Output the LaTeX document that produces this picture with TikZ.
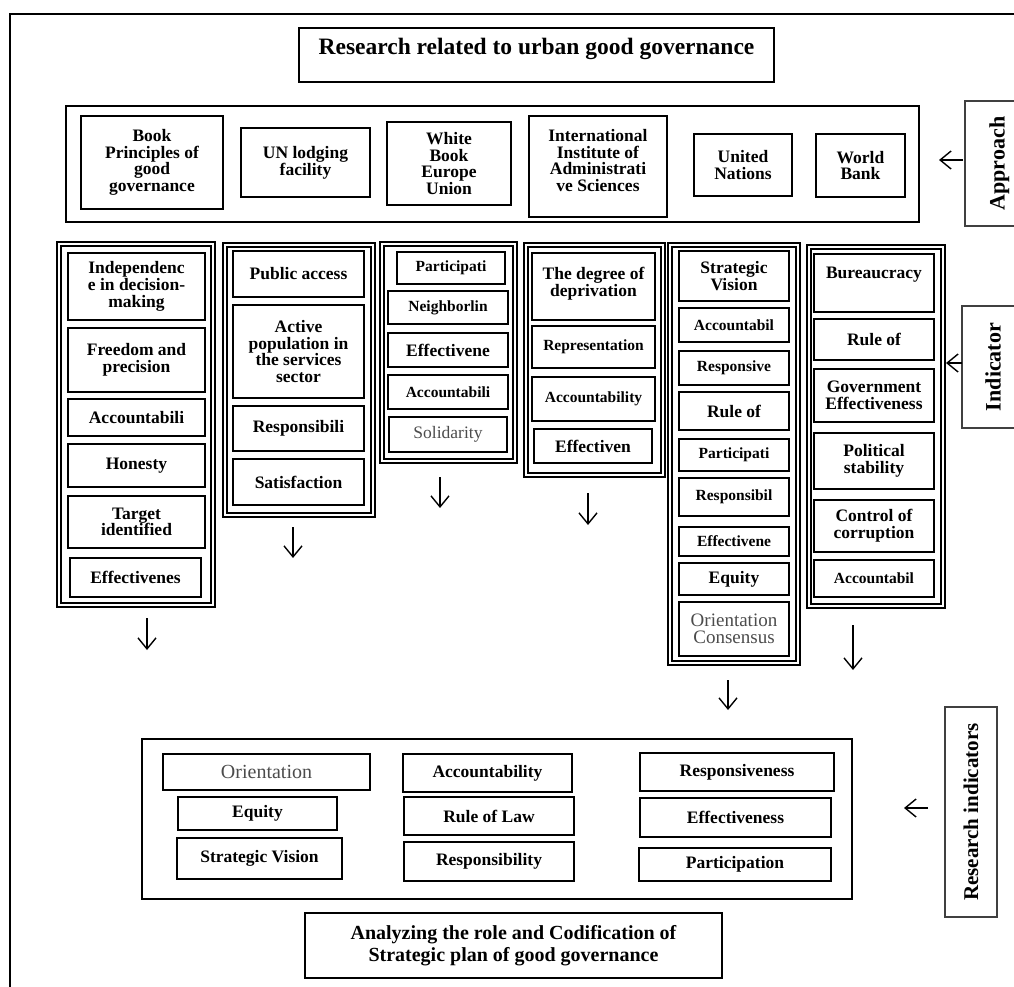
\documentclass[tikz,border=0pt]{standalone}
\usepackage{fontspec}
\setmainfont{Liberation Serif}
\usepackage{tikz}
\usetikzlibrary{arrows.meta}
\tikzset{sz/.style n args={2}{minimum width=#1pt, minimum height=#2pt}}

\begin{document}
\begin{tikzpicture}[x=1pt, y=-1pt,
  font=\bfseries\fontsize{17.5}{16.7}\selectfont,
  box/.style={draw, line width=2.2pt, align=center, inner sep=1pt},
  sm/.style={font=\bfseries\fontsize{15.5}{15}\selectfont},
  lite/.style={font=\mdseries\fontsize{19}{17}\selectfont, text=black!70},
  colbox/.style={draw, double, line width=1.8pt, double distance=1.8pt},
  side/.style={draw=black!75, line width=1.3pt, rotate=90, align=center,
               font=\bfseries\fontsize{22}{24}\selectfont},
  ar/.style={-{Straight Barb[length=11pt,width=18pt]}, line width=1.4pt}
]
\fill[white] (0,0) rectangle (1014,987);
\useasboundingbox (0,0) rectangle (1014,987);
\draw[line width=2.6pt] (10,995) |- (1030,14);

% title and approach
\node[box, line width=1.8pt, sz={475}{54}, text depth=17pt,
  font=\bfseries\fontsize{23.5}{24}\selectfont] (title) at (536.5,55)
  {Research related to urban good governance};
\node[draw, line width=2.6pt, sz={853}{116}] (appr) at (492.5,164) {};
\node[box, sz={142}{93}] (ap1) at (152,162.5) {Book\\Principles of\\good\\governance};
\node[box, sz={129}{69}] (ap2) at (305.5,162.5) {UN lodging\\facility};
\node[box, sz={124}{83}] (ap3) at (449,163.5) {White\\Book\\Europe\\Union};
\node[box, sz={138}{101}, text depth=12pt] (ap4) at (598,166.5)
  {International\\Institute of\\Administrati\\ve Sciences};
\node[box, sz={98}{62}] (ap5) at (743,165) {United\\Nations};
\node[box, sz={89}{63}] (ap6) at (860.5,165.5) {World\\Bank};
\node[side, sz={125}{64}, text depth=0pt] (approach) at (997,163.5) {Approach};
\coordinate (apS) at (963,160);
\coordinate (apE) at (939,160);
\draw[ar] (apS) -- (apE);

% indicator columns
\node[colbox, sz={154}{361}] (col1) at (136,424.5) {};
\node[box, sz={137}{67}] (c1a) at (136.5,286.5) {Independenc\\e in decision-\\making};
\node[box, sz={137}{64}] (c1b) at (136.5,360) {Freedom and\\precision};
\node[box, sz={137}{37}] (c1c) at (136.5,417.5) {Accountabili};
\node[box, sz={137}{43}] (c1d) at (136.5,465.5) {Honesty};
\node[box, sz={137}{52}] (c1e) at (136.5,522) {Target\\identified};
\node[box, sz={131}{39}] (c1f) at (135.5,577.5) {Effectivenes};

\node[colbox, sz={148}{270}] (col2) at (299,380) {};
\node[box, sz={131}{46}] (c2a) at (298.5,274) {Public access};
\node[box, sz={131}{93}] (c2b) at (298.5,351.5) {Active\\population in\\the services\\sector};
\node[box, sz={131}{45}] (c2c) at (298.5,428.5) {Responsibili};
\node[box, sz={131}{46}] (c2d) at (298.5,482) {Satisfaction};

\node[colbox, sz={133}{217}] (col3) at (448.5,352.5) {};
\node[box, sm, sz={108}{32}] (c3a) at (451,268) {Participati};
\node[box, sm, sz={120}{33}] (c3b) at (448,307.5) {Neighborlin};
\node[box, sz={120}{34}] (c3c) at (448,350) {Effectivene};
\node[box, sm, sz={120}{34}] (c3d) at (448,392) {Accountabili};
\node[box, lite, sz={118}{35}, font=\mdseries\fontsize{17.5}{17}\selectfont] (c3e)
  at (448,434.5) {Solidarity};

\node[colbox, sz={137}{230}] (col4) at (594.5,360) {};
\node[box, sz={123}{67}, text depth=9pt] (c4a) at (593.5,286.5) {The degree of\\deprivation};
\node[box, sm, sz={123}{42}] (c4b) at (593.5,347) {Representation};
\node[box, sm, sz={123}{44}] (c4c) at (593.5,399) {Accountability};
\node[box, sz={118}{34}] (c4d) at (593,446) {Effectiven};

\node[colbox, sz={128}{418}] (col5) at (734,454) {};
\node[box, sz={110}{50}] (c5a) at (734,276) {Strategic\\Vision};
\node[box, sm, sz={110}{34}] (c5b) at (734,325) {Accountabil};
\node[box, sm, sz={110}{34}] (c5c) at (734,368) {Responsive};
\node[box, sz={110}{38}] (c5d) at (734,411) {Rule of};
\node[box, sm, sz={110}{32}] (c5e) at (734,455) {Participati};
\node[box, sm, sz={110}{38}] (c5f) at (734,497) {Responsibil};
\node[box, sm, sz={110}{29}] (c5g) at (734,541.5) {Effectivene};
\node[box, sz={110}{32}] (c5h) at (734,579) {Equity};
\node[box, lite, sz={110}{54}] (c5i) at (734,629) {Orientation\\Consensus};

\node[colbox, sz={134}{359}] (col6) at (876,426.5) {};
\node[box, sz={120}{58}, text depth=20pt] (c6a) at (874,283) {Bureaucracy};
\node[box, sz={120}{41}] (c6b) at (874,339.5) {Rule of};
\node[box, sz={120}{53}] (c6c) at (874,395.5) {Government\\Effectiveness};
\node[box, sz={120}{56}] (c6d) at (874,461) {Political\\stability};
\node[box, sz={120}{52}] (c6e) at (874,526) {Control of\\corruption};
\node[box, sm, sz={120}{37}] (c6f) at (874,578.5) {Accountabil};

\node[side, sz={122}{62}] (indic) at (993,367) {Indicator};
\coordinate (inS) at (962,363);
\coordinate (inE) at (946,363);
\draw[ar] (inS) -- (inE);

% arrows down to the research indicators
\foreach \n/\x/\ya/\yb in {1/147/618/650, 2/293/527/558, 3/440/477/508,
    4/588/493/525, 5/728/680/710, 6/853/625/670} {
  \coordinate (d\n S) at (\x,\ya);
  \coordinate (d\n E) at (\x,\yb);
  \draw[ar] (d\n S) -- (d\n E);
}

% research indicators
\node[draw, line width=2.8pt, sz={710}{160}] (res) at (497,819) {};
\node[box, lite, sz={207}{36}, font=\mdseries\fontsize{20}{20}\selectfont] (b1)
  at (266.5,772) {Orientation};
\node[box, sz={159}{33}] (b2) at (257.5,813.5) {Equity};
\node[box, sz={165}{41}] (b3) at (259.5,858.5) {Strategic Vision};
\node[box, sz={169}{38}] (b4) at (487.5,773) {Accountability};
\node[box, sz={170}{38}] (b5) at (489,816) {Rule of Law};
\node[box, sz={170}{39}] (b6) at (489,861.5) {Responsibility};
\node[box, sz={194}{38}] (b7) at (737,772) {Responsiveness};
\node[box, sz={191}{39}] (b8) at (735.5,817.5) {Effectiveness};
\node[box, sz={192}{33}] (b9) at (735,864.5) {Participation};

\node[side, sz={210}{52}, font=\bfseries\fontsize{21}{22}\selectfont] (resind)
  at (971,812) {Research indicators};
\coordinate (riS) at (928,808);
\coordinate (riE) at (904,808);
\draw[ar] (riS) -- (riE);

\node[draw, line width=1.6pt, sz={417}{65}, align=center,
  font=\bfseries\fontsize{20}{21.7}\selectfont] (plan) at (513.5,945.5)
  {Analyzing the role and Codification of\\Strategic plan of good governance};
\end{tikzpicture}
\end{document}
